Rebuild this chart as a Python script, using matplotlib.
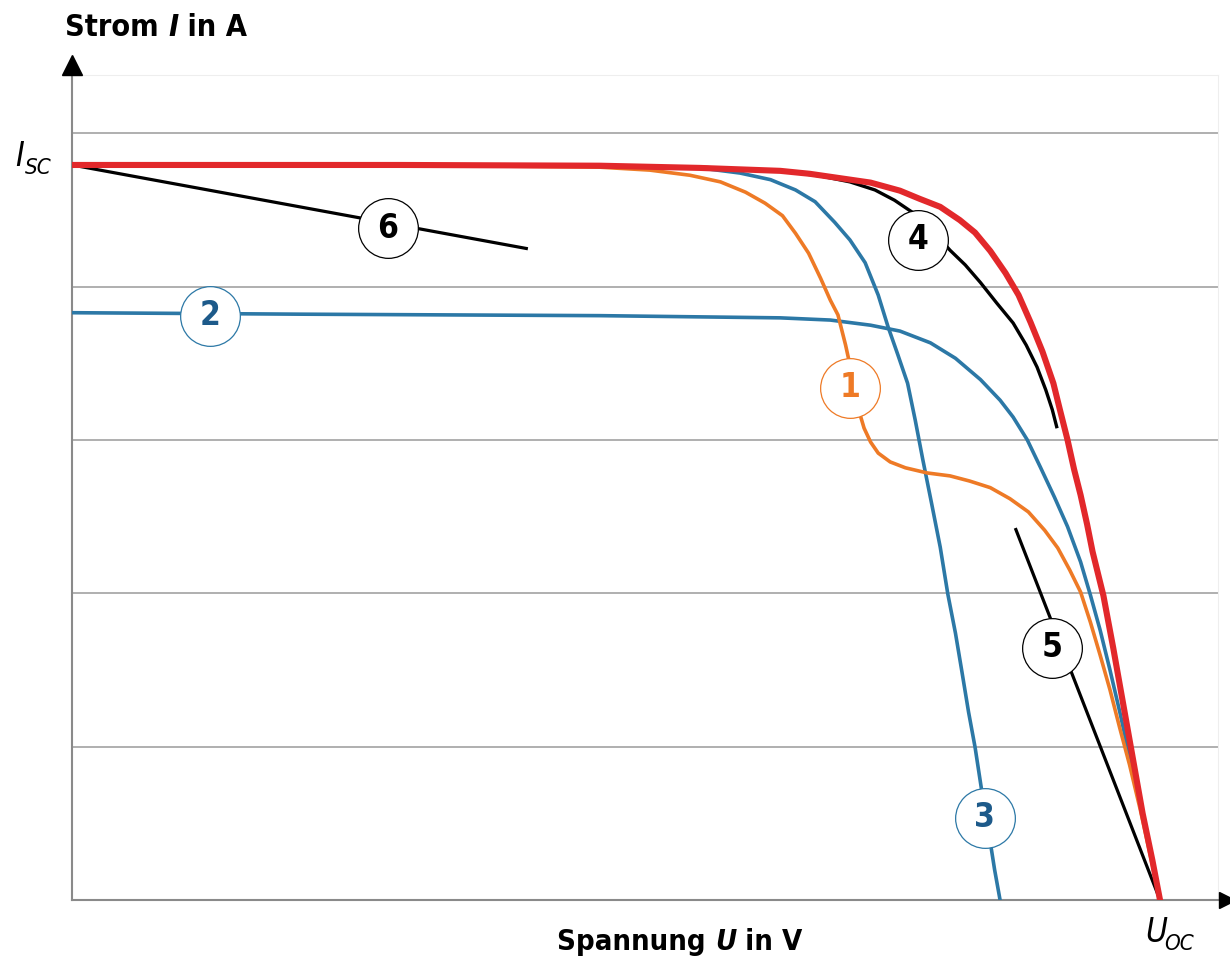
import matplotlib.pyplot as plt

# U normalised to U_oc, I normalised to I_sc
u_red = [0, 0.302, 0.485, 0.577, 0.651, 0.678, 0.706, 0.734, 0.761, 0.779, 0.798, 0.816,
         0.830, 0.844, 0.858, 0.870, 0.881, 0.892, 0.902, 0.908, 0.915, 0.921, 0.927, 0.933,
         0.938, 0.948, 0.957, 0.966, 0.975, 0.984, 0.993, 1.0]
i_red = [1.0, 1.0, 0.999, 0.996, 0.992, 0.988, 0.982, 0.976, 0.965, 0.954, 0.943, 0.925,
         0.908, 0.883, 0.853, 0.823, 0.786, 0.746, 0.703, 0.667, 0.626, 0.586, 0.551, 0.511,
         0.474, 0.414, 0.343, 0.268, 0.193, 0.118, 0.054, 0.0]

u_1 = [0, 0.302, 0.485, 0.531, 0.568, 0.596, 0.619, 0.637, 0.653, 0.665, 0.677, 0.688,
       0.697, 0.704, 0.711, 0.715, 0.720, 0.723, 0.728, 0.734, 0.741, 0.752, 0.766, 0.786,
       0.807, 0.825, 0.844, 0.862, 0.879, 0.894, 0.906, 0.917, 0.927, 0.936, 0.945, 0.954,
       0.963, 0.972, 0.982, 0.991, 1.0]
i_1 = [1.0, 1.0, 0.997, 0.993, 0.986, 0.977, 0.963, 0.948, 0.931, 0.907, 0.880, 0.846,
       0.816, 0.796, 0.755, 0.728, 0.697, 0.667, 0.642, 0.623, 0.608, 0.596, 0.588, 0.581,
       0.577, 0.570, 0.561, 0.546, 0.528, 0.503, 0.479, 0.449, 0.419, 0.378, 0.333, 0.286,
       0.234, 0.184, 0.122, 0.061, 0.0]

u_2 = [0, 0.210, 0.485, 0.651, 0.697, 0.734, 0.761, 0.789, 0.812, 0.835, 0.853, 0.865,
       0.878, 0.890, 0.903, 0.915, 0.927, 0.936, 0.945, 0.954, 0.963, 0.972, 0.982, 0.991, 1.0]
i_2 = [0.799, 0.797, 0.795, 0.792, 0.789, 0.782, 0.774, 0.758, 0.737, 0.708, 0.680, 0.657,
       0.626, 0.589, 0.548, 0.508, 0.460, 0.415, 0.367, 0.313, 0.256, 0.195, 0.129, 0.065, 0.0]

u_3 = [0, 0.302, 0.485, 0.577, 0.614, 0.642, 0.665, 0.683, 0.701, 0.715, 0.729, 0.741,
       0.750, 0.759, 0.768, 0.775, 0.782, 0.790, 0.798, 0.805, 0.812, 0.818, 0.824, 0.830,
       0.836, 0.843, 0.848, 0.853]
i_3 = [1.0, 1.0, 0.999, 0.996, 0.989, 0.980, 0.966, 0.950, 0.922, 0.898, 0.867, 0.823,
       0.780, 0.742, 0.703, 0.653, 0.599, 0.540, 0.480, 0.416, 0.363, 0.310, 0.256, 0.208,
       0.150, 0.088, 0.041, 0.0]

u_4 = [0, 0.302, 0.577, 0.651, 0.688, 0.715, 0.738, 0.756, 0.772, 0.789, 0.807, 0.821,
       0.835, 0.850, 0.865, 0.877, 0.887, 0.895, 0.901, 0.905]
i_4 = [1.0, 1.0, 0.997, 0.992, 0.985, 0.977, 0.966, 0.952, 0.936, 0.914, 0.884, 0.864,
       0.840, 0.812, 0.785, 0.755, 0.725, 0.694, 0.667, 0.644]

u_5 = [0.867, 1.0]
i_5 = [0.506, 0.0]

u_6 = [0, 0.419]
i_6 = [1.0, 0.886]

grid_i = [0.208, 0.417, 0.626, 0.834, 1.044]

labels = ['1', '2', '3', '4', '5', '6']
label_u = [0.715, 0.127, 0.839, 0.778, 0.901, 0.290]
label_i = [0.697, 0.795, 0.112, 0.898, 0.343, 0.914]

RED = '#e2282b'
ORANGE = '#ee7a26'
BLUE = '#2c78a6'
DARKBLUE = '#1d5a8a'

plt.rcParams['font.family'] = ['DejaVu Sans']

W, H = 1230, 967
fig = plt.figure(figsize=(W / 100, H / 100), dpi=100)
ax = fig.add_axes([72 / W, 67 / H, (1218 - 72) / W, (900 - 75) / H])
ax.set_xlim(0, 1.0533)
ax.set_ylim(0, 1.1224)

for g in grid_i:
    ax.axhline(g, color='#9a9a9a', lw=1.1, zorder=1)

for s in ['top', 'right']:
    ax.spines[s].set_color('#eeeeee')
    ax.spines[s].set_linewidth(0.8)
ax.spines['left'].set_color('#8a8a8a')
ax.spines['left'].set_linewidth(1.5)
ax.spines['bottom'].set_color('#8a8a8a')
ax.spines['bottom'].set_linewidth(1.5)
ax.set_xticks([])
ax.set_yticks([])

# axis arrows
ax.plot(0, 1.012, marker='^', ms=14, color='black', transform=ax.transAxes, clip_on=False, zorder=10)
ax.plot(1.008, 0, marker='>', ms=11, color='black', transform=ax.transAxes, clip_on=False, zorder=10)

ax.plot(u_6, i_6, color='black', lw=2.3, zorder=3, solid_capstyle='butt')
ax.plot(u_5, i_5, color='black', lw=2.3, zorder=3, solid_capstyle='butt')
ax.plot(u_2, i_2, color=BLUE, lw=2.6, zorder=3)
ax.plot(u_3, i_3, color=BLUE, lw=2.6, zorder=3)
ax.plot(u_1, i_1, color=ORANGE, lw=2.6, zorder=4)
ax.plot(u_4, i_4, color='black', lw=2.4, zorder=4)
ax.plot(u_red, i_red, color=RED, lw=4.4, zorder=5)

edge = {'1': ORANGE, '2': BLUE, '3': BLUE, '4': 'black', '5': 'black', '6': 'black'}
txtc = {'1': ORANGE, '2': DARKBLUE, '3': DARKBLUE, '4': 'black', '5': 'black', '6': 'black'}
for lab, x, y in zip(labels, label_u, label_i):
    ax.plot(x, y, marker='o', ms=43, mfc='white', mec=edge[lab], mew=0.9, zorder=8)
    ax.text(x, y, lab, fontsize=24, fontweight='bold', fontstretch='condensed',
            color=txtc[lab], ha='center', va='center', zorder=9)


def put(pieces, x, y, size=22, weight='bold'):
    # write text pieces side by side, starting at pixel x
    r = fig.canvas.get_renderer()
    for s, st in pieces:
        t = fig.text(x / W, 1 - y / H, s, fontsize=size, fontweight=weight, fontstyle=st,
                     fontstretch='condensed', ha='left', va='center')
        x += t.get_window_extent(r).width


put([('Strom ', 'normal'), ('I', 'italic'), (' in A', 'normal')], 65, 28)
put([('Spannung ', 'normal'), ('U', 'italic'), (' in V', 'normal')], 557, 942, size=21)

# I_sc and U_oc
fig.text(15 / W, 1 - 157 / H, 'I', fontsize=24, fontstyle='italic', fontstretch='condensed',
         ha='left', va='center')
fig.text(25 / W, 1 - 168 / H, 'SC', fontsize=16, fontstyle='italic', fontstretch='condensed',
         ha='left', va='center')
fig.text(1145 / W, 1 - 933 / H, 'U', fontsize=24, fontstyle='italic', fontstretch='condensed',
         ha='left', va='center')
fig.text(1164 / W, 1 - 944 / H, 'OC', fontsize=16, fontstyle='italic', fontstretch='condensed',
         ha='left', va='center')

fig.savefig('out.png', dpi=100)
